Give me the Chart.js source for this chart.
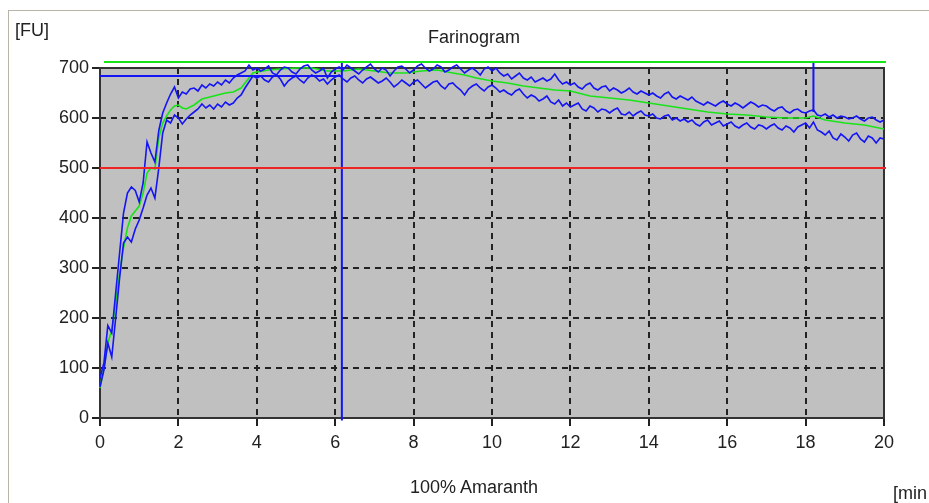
<!DOCTYPE html>
<html>
<head>
<meta charset="utf-8">
<style>
  body { margin: 0; background: #fff; font-family: "Liberation Sans", Arial, sans-serif; }
  #wrap { position: relative; width: 929px; height: 503px; overflow: hidden; }
  #frame { position: absolute; left: 8px; top: 10px; width: 960px; height: 520px;
           border-left: 1px solid #b8b4a6; border-top: 1px solid #b8b4a6; }
  canvas { position: absolute; left: 0; top: 0; }
  .lbl { position: absolute; color: #222; font-size: 18px; line-height: 20px; white-space: nowrap; }
  .ctr { width: 240px; text-align: center; }
</style>
</head>
<body>
<div id="wrap">
  <div id="frame"></div>
  <canvas id="farino" width="929" height="503"></canvas>
  <div class="lbl" style="left:15px; top:20px;">[FU]</div>
  <div class="lbl ctr" style="left:354px; top:27px;">Farinogram</div>
  <div class="lbl ctr" style="left:354px; top:477px;">100% Amaranth</div>
  <div class="lbl" style="left:893px; top:483px;">[min</div>
</div>

<script src="https://cdn.jsdelivr.net/npm/chart.js"></script>
<script>
    // raw signal, sampled every 0.1 min (0 .. 20)
    const sampleStep = 0.1;
    const upperFU = [
        80, 110, 185, 170, 250, 330, 410, 450, 462, 455,
        432, 470, 552, 530, 512, 575, 610, 630, 648, 662,
        640, 652, 648, 658, 660, 654, 666, 660, 668, 664,
        672, 666, 676, 670, 680, 686, 690, 694, 706, 696,
        700, 694, 698, 704, 690, 686, 696, 702, 700, 692,
        688, 698, 704, 706, 696, 690, 694, 700, 680, 692,
        698, 702, 696, 706, 700, 694, 688, 696, 702, 708,
        698, 692, 700, 696, 684, 694, 702, 704, 698, 690,
        696, 704, 708, 700, 694, 698, 706, 702, 692, 696,
        702, 706, 698, 690, 696, 700, 694, 686, 698, 702,
        694, 700, 690, 684, 688, 678, 684, 690, 680, 676,
        682, 672, 676, 680, 674, 678, 688, 676, 668, 672,
        666, 670, 662, 658, 666, 670, 660, 656, 662, 664,
        654, 660, 656, 650, 654, 660, 652, 648, 654, 650,
        646, 650, 644, 640, 648, 652, 642, 638, 644, 640,
        636, 642, 634, 630, 626, 632, 628, 624, 630, 634,
        628, 624, 630, 626, 620, 626, 632, 628, 622, 626,
        624, 618, 614, 620, 622, 614, 610, 616, 618, 612,
        610, 614, 616, 606, 604, 608, 602, 606, 600, 604,
        602, 598, 600, 604, 598, 594, 600, 602, 596, 592,
        596
    ];
    const lowerFU = [
        62, 96, 150, 122, 200, 280, 350, 362, 352, 378,
        396, 420, 446, 460, 440, 500, 570, 596, 590, 606,
        600, 588, 598, 606, 612, 618, 628, 620, 626, 618,
        628, 622, 632, 626, 630, 640, 646, 660, 672, 684,
        680, 684, 676, 672, 682, 686, 678, 664, 674, 680,
        684, 676, 670, 680, 686, 682, 674, 678, 668, 676,
        682, 686, 678, 672, 680, 684, 676, 670, 678, 682,
        676, 670, 674, 680, 672, 662, 668, 676, 670, 664,
        672, 676, 668, 660, 666, 672, 674, 664, 658, 668,
        670, 662, 656, 646, 658, 664, 668, 660, 654, 662,
        666, 660, 652, 656, 650, 646, 654, 658, 648, 640,
        646, 642, 634, 638, 644, 632, 628, 636, 624, 630,
        622, 626, 630, 618, 614, 624, 620, 612, 618, 616,
        610, 616, 620, 608, 606, 612, 604, 610, 614, 606,
        604, 608, 600, 598, 604, 606, 596, 600, 594, 598,
        592, 596, 588, 584, 592, 596, 586, 590, 594, 584,
        588, 592, 584, 580, 586, 590, 582, 578, 586, 584,
        578, 584, 588, 580, 576, 584, 580, 572, 582, 586,
        590, 580, 592, 576, 572, 566, 574, 560, 556, 568,
        562, 554, 566, 570, 558, 552, 564, 560, 550, 560,
        558
    ];

    // smoothed median curve
    const greenTime = [0, 0.1, 0.2, 0.3, 0.4, 0.5, 0.6, 0.7, 0.8, 0.9,
        1.0, 1.1, 1.2, 1.3, 1.4, 1.5, 1.6, 1.7, 1.8, 1.9, 2.0, 2.1, 2.2,
        2.4, 2.6, 2.8, 3.0, 3.2, 3.4, 3.6, 3.8, 3.9, 4.0,
        4.3, 4.6, 5.0, 5.4, 5.8, 6.2, 6.6, 7.0, 7.4, 7.8, 8.2, 8.6, 9.0,
        9.3, 9.6, 10.0, 10.4, 10.8, 11.2, 11.6, 12.0,
        12.5, 13.0, 13.5, 14.0, 14.5, 15.0, 15.5, 16.0, 16.5, 17.0, 17.5, 18.0,
        18.2, 18.5, 19.0, 19.5, 20.0];
    const greenFU = [60, 100, 150, 175, 230, 290, 340, 380, 404, 414,
        424, 450, 490, 500, 498, 560, 590, 604, 616, 624, 626, 620, 618,
        626, 638, 642, 646, 650, 652, 660, 680, 690, 692,
        696, 698, 700, 700, 694, 694, 698, 694, 690, 690, 694, 696, 690,
        686, 680, 674, 670, 664, 660, 656, 654,
        644, 640, 636, 630, 624, 618, 612, 608, 606, 602, 600, 600,
        604, 596, 590, 586, 578];

    // evaluation markers
    const consistencyLine = 500;
    const maxLine = 712;
    const devTime = 6.17;
    const devLevel = 684;
    const stabEndTime = 18.2;
    const stabEndLevel = 612;

    const xTicks = [0, 2, 4, 6, 8, 10, 12, 14, 16, 18, 20];
    const yTicks = [0, 100, 200, 300, 400, 500, 600, 700];

    const toPts = (vals) => vals.map((v, i) => ({ x: +(i * sampleStep).toFixed(1), y: v }));
    const BLUE = '#1414f5', GREEN = '#18e418', RED = '#ee2424';

    function line(data, color, width) {
        return { data: data, borderColor: color, borderWidth: width, pointRadius: 0, tension: 0, clip: false };
    }

    const plotBg = {
        id: 'plotBg',
        beforeDraw(chart) {
            const a = chart.chartArea, ctx = chart.ctx;
            ctx.save();
            ctx.fillStyle = '#c0c0c0';
            ctx.fillRect(a.left, a.top, a.right - a.left, a.bottom - a.top);
            ctx.restore();
        },
        beforeDatasetsDraw(chart) {
            const a = chart.chartArea, ctx = chart.ctx;
            ctx.save();
            ctx.strokeStyle = '#333';
            ctx.lineWidth = 2;
            ctx.strokeRect(a.left, a.top, a.right - a.left, a.bottom - a.top);
            ctx.restore();
        }
    };

    new Chart(document.getElementById('farino'), {
        type: 'line',
        data: {
            datasets: [
                line([{ x: 0.1, y: maxLine }, { x: 20.05, y: maxLine }], GREEN, 2),
                line([{ x: 0, y: consistencyLine }, { x: 20.05, y: consistencyLine }], RED, 2),
                line([{ x: 0, y: devLevel }, { x: devTime, y: devLevel }], BLUE, 2),
                line([{ x: devTime, y: maxLine }, { x: devTime, y: -5 }], BLUE, 2),
                line([{ x: stabEndTime, y: maxLine }, { x: stabEndTime, y: stabEndLevel }], BLUE, 2),
                line(toPts(upperFU), BLUE, 1.6),
                line(toPts(lowerFU), BLUE, 1.6),
                line(greenTime.map((t, i) => ({ x: t, y: greenFU[i] })), GREEN, 1.6)
            ]
        },
        options: {
            responsive: false,
            animation: false,
            layout: { padding: { top: 68, right: 45, left: 0, bottom: 0 } },
            plugins: { legend: { display: false }, tooltip: { enabled: false } },
            scales: {
                x: {
                    type: 'linear',
                    min: 0,
                    max: 20,
                    afterBuildTicks: (s) => { s.ticks = xTicks.map(v => ({ value: v })); },
                    afterFit: (s) => { s.height = 85; },
                    grid: { color: '#222', lineWidth: 2, tickLength: 8, tickWidth: 2 },
                    border: { display: false, dash: [6, 5] },
                    ticks: { color: '#222', padding: 6, maxRotation: 0, font: { size: 18, family: 'Liberation Sans' } }
                },
                y: {
                    min: 0,
                    max: 700,
                    afterBuildTicks: (s) => { s.ticks = yTicks.map(v => ({ value: v })); },
                    afterFit: (s) => { s.width = 100; },
                    grid: { color: '#222', lineWidth: 2, tickLength: 8, tickWidth: 2 },
                    border: { display: false, dash: [6, 5] },
                    ticks: { color: '#222', padding: 3, font: { size: 18, family: 'Liberation Sans' } }
                }
            }
        },
        plugins: [plotBg]
    });
</script>
</body>
</html>
